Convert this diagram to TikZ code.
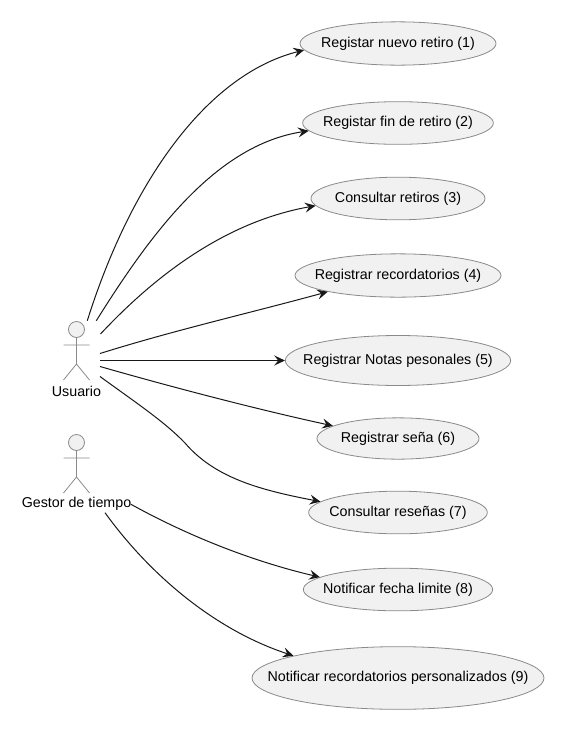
\documentclass[tikz,border=0pt]{standalone}
\usepackage{fontspec}
\setmainfont{Liberation Sans}
\usetikzlibrary{arrows.meta,shapes.geometric}
\definecolor{ucfill}{HTML}{F1F1F1}
\definecolor{ucline}{HTML}{8A8A8A}
\definecolor{edgeline}{HTML}{181818}
\newcommand{\uclabel}[1]{\makebox[0pt]{\raisebox{-1.3pt}{#1}}}
\newcommand{\stickman}[2]{%
	\draw[ucline, fill=ucfill, line width=0.6pt] (#1,#2) circle (8);
	\draw[ucline, line width=0.6pt] (#1,#2+8) -- (#1,#2+34.5) -- (#1-13,#2+50.5) (#1,#2+34.5) -- (#1+13,#2+50.5) (#1-13,#2+15.5) -- (#1+13,#2+15.5);
}
\tikzset{
	usecase/.style={ellipse, draw=ucline, fill=ucfill, line width=0.6pt, inner sep=0pt, text=black},
	actorname/.style={inner sep=0pt, text=black},
	assoc/.style={->, edgeline, line width=0.75pt}
}
\begin{document}
\begin{tikzpicture}[x=0.75pt, y=-0.75pt, every node/.style={font=\fontsize{10.7pt}{12pt}\selectfont}, >={Stealth[length=8pt, width=7.5pt, inset=3pt]}]
	\useasboundingbox (0,0) rectangle (566,732);
	\stickman{76.5}{329.5}
	\stickman{76.5}{442.5}
	\node[actorname] (usuario) at (76.5,391) {Usuario};
	\node[actorname] (gestor) at (76.5,504) {Gestor de tiempo};
	\node[usecase, minimum width=147pt, minimum height=32.5pt] (nuevo) at (398,43.5) {\uclabel{Registar nuevo retiro (1)}};
	\node[usecase, minimum width=143pt, minimum height=32pt] (fin) at (398,123) {\uclabel{Registar fin de retiro (2)}};
	\node[usecase, minimum width=130.5pt, minimum height=32pt] (consulta) at (398,198.5) {\uclabel{Consultar retiros (3)}};
	\node[usecase, minimum width=154.5pt, minimum height=32.5pt] (recordar) at (398,275.5) {\uclabel{Registrar recordatorios (4)}};
	\node[usecase, minimum width=169pt, minimum height=37.5pt] (notas) at (398,360.5) {\uclabel{Registrar Notas pesonales (5)}};
	\node[usecase, minimum width=121.5pt, minimum height=31pt] (sena) at (398,438.5) {\uclabel{Registrar seña (6)}};
	\node[usecase, minimum width=134pt, minimum height=32pt] (resena) at (398,512.5) {\uclabel{Consultar reseñas (7)}};
	\node[usecase, minimum width=142pt, minimum height=32pt] (fecha) at (398,589.5) {\uclabel{Notificar fecha limite (8)}};
	\node[usecase, minimum width=219pt, minimum height=47pt] (personal) at (398,678) {\uclabel{Notificar recordatorios personalizados (9)}};
	\coordinate (u1) at (87.3,320.7);
	\coordinate (u2) at (96.3,320.7);
	\coordinate (u3) at (100.5,334);
	\coordinate (u4) at (100,353.5);
	\coordinate (u5) at (100,360.5);
	\coordinate (u6) at (100,366.5);
	\coordinate (u7) at (100,376.5);
	\coordinate (g8) at (131,504.3);
	\coordinate (g9) at (105,512.7);
	\draw[assoc] (u1) .. controls (130,185) and (205,75) .. (nuevo.184);
	\draw[assoc] (u2) .. controls (150,235) and (215,145) .. (fin.185);
	\draw[assoc] (u3) .. controls (165,265) and (235,220) .. (consulta.185);
	\draw[assoc] (u4) .. controls (175,330) and (250,313) .. (recordar.193);
	\draw[assoc] (u5) -- (notas.180);
	\draw[assoc] (u6) .. controls (175,388) and (260,410) .. (sena.169);
	\draw[assoc] (u7) .. controls (135,402) and (165,422) .. (185,443) .. controls (215,478) and (260,490) .. (resena.172);
	\draw[assoc] (g8) .. controls (190,537) and (255,562) .. (fecha.171);
	\draw[assoc] (g9) .. controls (150,575) and (215,630) .. (personal.168);
\end{tikzpicture}
\end{document}
